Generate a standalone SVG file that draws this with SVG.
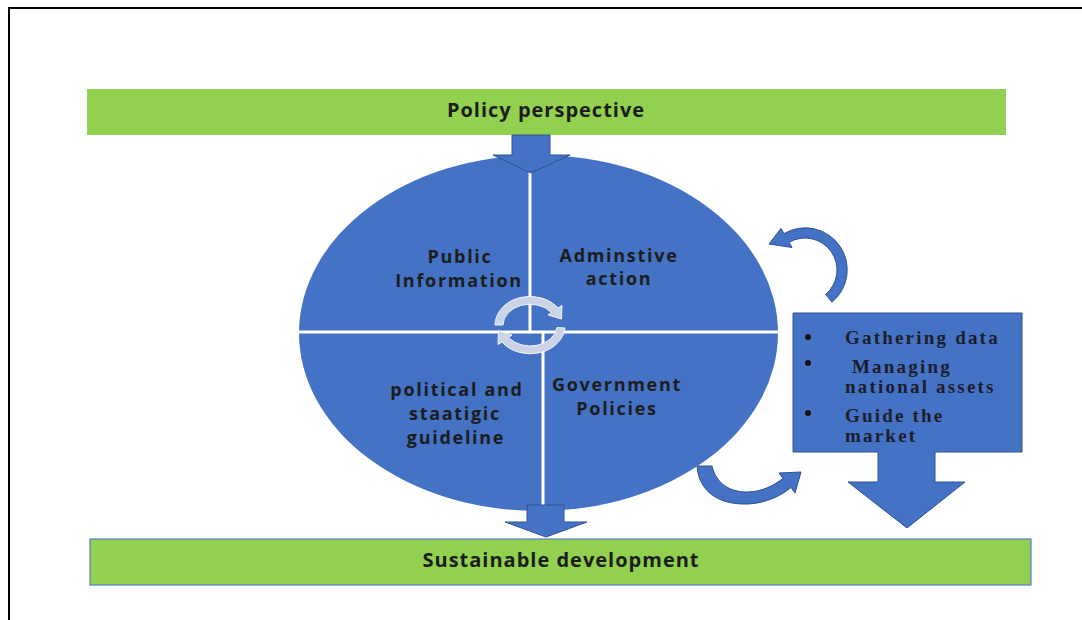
<svg xmlns="http://www.w3.org/2000/svg" width="1082" height="620" viewBox="0 0 1082 620">
<style>
.bar{fill:#92D050}
.blue{fill:#4472C4;stroke:#2F528F;stroke-width:1}
.lbl{font-family:"Open Sans","Liberation Sans",sans-serif;font-weight:bold;font-size:18px;fill:#1c1c1c;text-anchor:middle;letter-spacing:1.7px}
.ttl{font-size:20px;letter-spacing:1px}
.bul{font-family:"Liberation Serif","Times New Roman",serif;font-weight:bold;font-size:19px;fill:#1c1c2a;letter-spacing:2.2px}
.sep{stroke:#ffffff;stroke-width:3}
.rot{fill:#CBD4E6;stroke:#F2F5FA;stroke-width:1}
</style>
<rect width="1082" height="620" fill="#ffffff"/>
<path d="M9,620 V8 H1082" fill="none" stroke="#000" stroke-width="2"/>

<g id="policy-perspective">
<rect class="bar" x="87" y="89" width="919" height="46"/>
<text class="lbl ttl" x="546" y="117">Policy perspective</text>
</g>

<g id="sustainable-development">
<rect class="bar" x="90" y="539" width="941" height="46" stroke="#5B7FC4" stroke-width="1.2"/>
<text class="lbl ttl" x="561" y="567">Sustainable development</text>
</g>

<g id="circle">
<ellipse cx="538.5" cy="333" rx="239.5" ry="178" fill="#4472C4"/>
<line class="sep" x1="530" y1="150" x2="530" y2="332"/>
<line class="sep" x1="543" y1="332" x2="543" y2="515"/>
<line class="sep" x1="297" y1="332" x2="780" y2="332"/>
</g>

<g id="public-information">
<text class="lbl" x="460" y="263">Public</text>
<text class="lbl" x="459" y="287">Information</text>
</g>
<g id="adminstive-action">
<text class="lbl" x="619" y="262">Adminstive</text>
<text class="lbl" x="619" y="285">action</text>
</g>
<g id="political-guideline">
<text class="lbl" x="457" y="396">political and</text>
<text class="lbl" x="455" y="420">staatigic</text>
<text class="lbl" x="456" y="444">guideline</text>
</g>
<g id="government-policies">
<text class="lbl" x="617" y="391">Government</text>
<text class="lbl" x="617" y="415">Policies</text>
</g>

<g id="functions-box">
<path class="blue" d="M793,313 H1022 V452 H935 V482 H965 L907,528 L848,482 H878 V452 H793 Z"/>
<circle cx="808" cy="337" r="3" fill="#111"/>
<circle cx="808" cy="363" r="3" fill="#111"/>
<circle cx="808" cy="413" r="3" fill="#111"/>
<text class="bul" x="845" y="344">Gathering data</text>
<text class="bul" x="845" y="373" xml:space="preserve"> Managing</text>
<text class="bul" x="845" y="393">national assets</text>
<text class="bul" x="845" y="422">Guide the</text>
<text class="bul" x="845" y="442">market</text>
</g>

<g id="connectors">
<path class="blue" d="M512,135 H550 V155 H570 L531,173 L493,155 H512 Z"/>
<path class="blue" d="M527,505 H564 V522 H587 L546,537 L505,522 H527 Z"/>
<path class="rot" d="M495,325 A35,29 0 0 1 558,308 L562,305.5 L561.5,319 L548,315 L551.5,312.5 A27,21 0 0 0 503,325 Z"/>
<path class="rot" d="M565,328 A35,29 0 0 1 502,342 L498,344.5 L498.5,331 L512,335 L508.5,337.5 A27,21 0 0 0 557,327.5 Z"/>
<path class="blue" d="M832,302.2 A42,42 0 0 0 784,233.6 L781,228.4 L769,244 L792,247.5 L789,242.3 A32,32 0 0 1 825.6,294.5 Z"/>
<path class="blue" d="M697,466 C699,494 722,505 748,504 C767,503 782,495 791,487.5 L795,493 L801,472 L779,473 L783,478.5 C773,486 761,492 747,492 C729,492 716,483 712,466 Z"/>
</g>
</svg>
